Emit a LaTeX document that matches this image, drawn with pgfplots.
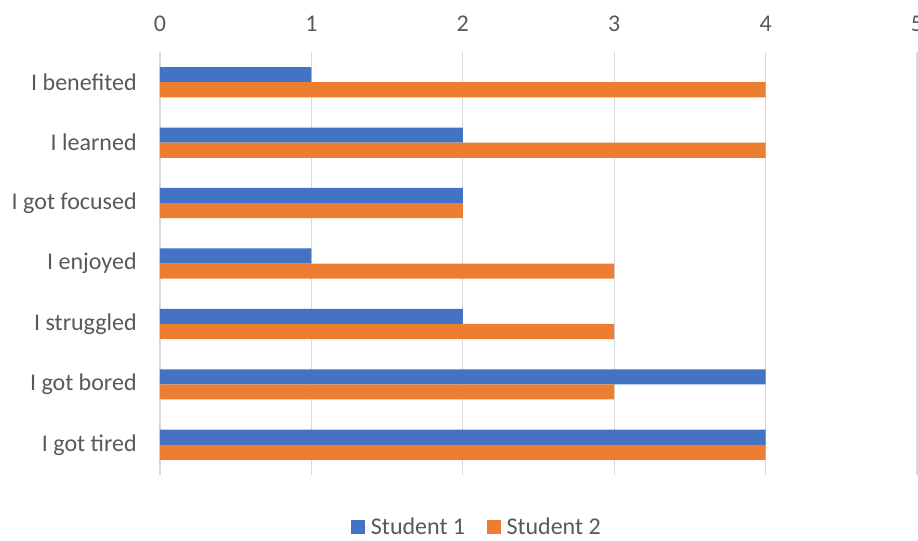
\documentclass[border=0pt]{standalone}
\usepackage{pgfplots}
\pgfplotsset{compat=1.18}
\usepackage{fontspec}
\setmainfont{Carlito}
\definecolor{sblue}{HTML}{4472C4}
\definecolor{sorange}{HTML}{ED7D31}
\definecolor{tgray}{HTML}{595959}
\definecolor{ggray}{HTML}{D9D9D9}
\begin{document}
\begin{tikzpicture}[x=1pt,y=1pt]
\useasboundingbox (0,0) rectangle (688.5,405);
\clip (0,0) rectangle (688.5,405);
\begin{axis}[
  at={(120pt,48.75pt)}, anchor=south west,
  scale only axis, width=567.75pt, height=317.25pt,
  xbar, bar width=0.25,
  xmin=0, xmax=5, xtick={0,1,2,3,4,5},
  ymin=-0.5, ymax=6.5, y dir=reverse,
  ytick={0,1,2,3,4,5,6},
  yticklabels={I benefited,I learned,I got focused,I enjoyed,I struggled,I got bored,I got tired},
  xticklabel pos=top,
  xmajorgrids, grid style={ggray, line width=0.9pt},
  axis line style={draw=none},
  major tick length=0pt,
  /pgf/number format/assume math mode=true,
  tick label style={font=\fontsize{18}{21}\selectfont, text=tgray},
  xticklabel style={yshift=12pt},
  yticklabel style={xshift=-14pt},
  legend style={at={(0.419,-0.123)}, anchor=center, draw=none, legend columns=2,
    font=\fontsize{18}{21}\selectfont, text=tgray,
    /tikz/every even column/.append style={column sep=14pt}},
  legend image code/.code={\fill[#1] (0pt,-5.25pt) rectangle (10.5pt,5.25pt);\path (10.5pt,0pt) -- (13pt,0pt);},
]
\addplot[fill=sblue, draw=none, bar shift=-0.125] coordinates {(1,0) (2,1) (2,2) (1,3) (2,4) (4,5) (4,6)};
\addplot[fill=sorange, draw=none, bar shift=0.125] coordinates {(4,0) (4,1) (2,2) (3,3) (3,4) (3,5) (4,6)};
\legend{Student 1, Student 2}
\end{axis}
\end{tikzpicture}
\end{document}
